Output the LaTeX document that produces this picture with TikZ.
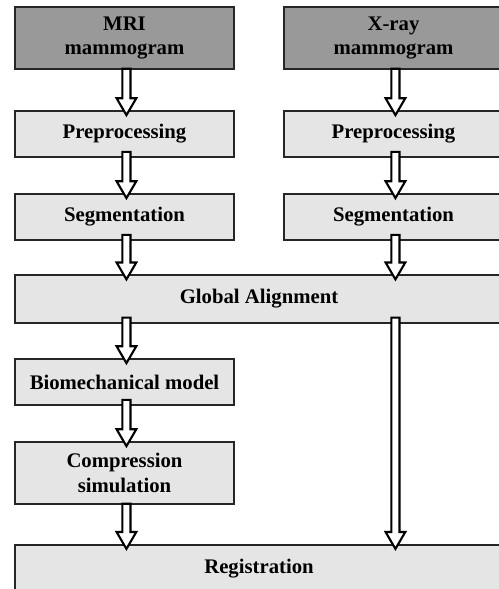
\documentclass[tikz,border=0pt]{standalone}
\usepackage{fontspec}
\setmainfont{Liberation Serif}
\usetikzlibrary{calc}

\definecolor{darkbox}{gray}{0.6}
\definecolor{lightbox}{gray}{0.9}

\begin{document}
\begin{tikzpicture}[
    box/.style={draw=black!85, line width=0.9pt, fill=lightbox, minimum width=4.38cm,
                minimum height=0.92cm, inner sep=0pt, align=center,
                font=\bfseries\fontsize{11.8}{14.2}\selectfont},
    source/.style={box, fill=darkbox, minimum height=1.24cm},
    wide/.style={box, minimum width=9.76cm, minimum height=0.95cm},
    hollow/.style={draw=black, line width=1.2pt, fill=white, line join=miter}]

\useasboundingbox (0,0) rectangle (9.96,-11.78);

% --- Input images ---
\node[source] (mri)  at (2.49,-0.76) {MRI\\mammogram};
\node[source] (xray) at (7.87,-0.76) {X-ray\\mammogram};

% --- Per-modality steps ---
\node[box] (prepL) at (2.49,-2.68) {Preprocessing};
\node[box] (prepR) at (7.87,-2.68) {Preprocessing};
\node[box] (segL)  at (2.49,-4.34) {Segmentation};
\node[box] (segR)  at (7.87,-4.34) {Segmentation};

% --- Joint steps ---
\node[wide] (glob) at (5.18,-5.98) {Global Alignment};
\node[box] (bio)   at (2.49,-7.64) {Biomechanical model};
\node[box, minimum height=1.24cm] (comp) at (2.49,-9.46) {Compression\\simulation};
\node[wide] (reg)  at (5.18,-11.37) {Registration};

\coordinate (gleft)  at (bio.north |- glob.south);
\coordinate (gsplit) at (segR.south |- glob.south);
\coordinate (rjoin)  at (segR.south |- reg.north);

% --- Hollow block arrows (from / to / start inset) ---
\foreach \from/\to/\s in {mri.south/prepL.north/0.6pt, prepL.south/segL.north/3.4pt,
                          segL.south/glob.north/3.4pt, xray.south/prepR.north/0.6pt,
                          prepR.south/segR.north/3.4pt, segR.south/glob.north/3.4pt,
                          gleft/bio.north/3.4pt, bio.south/comp.north/3.4pt,
                          comp.south/reg.north/0.6pt, gsplit/rjoin/3.4pt} {
    \draw[hollow] let \p1=([xshift=1.1pt]\from), \p2=(\to) in
        (\x1-2.3pt,\y1+\s) -- (\x1-2.3pt,\y2+6.8pt) -- (\x1-5.6pt,\y2+6.8pt)
        -- (\x1,\y2-2.8pt) -- (\x1+5.6pt,\y2+6.8pt) -- (\x1+2.3pt,\y2+6.8pt)
        -- (\x1+2.3pt,\y1+\s) -- cycle;
}

\end{tikzpicture}
\end{document}
